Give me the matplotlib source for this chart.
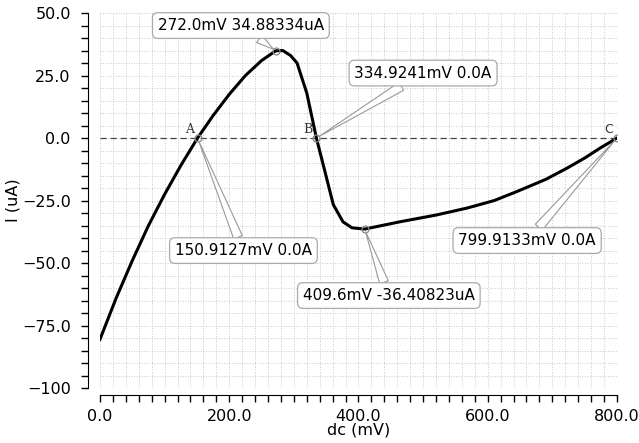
import numpy as np
import matplotlib.pyplot as plt
from matplotlib.ticker import MultipleLocator

# I-V curve, dc sweep
dc_mv = [0, 25, 50, 75, 100, 125, 150.9, 175, 200, 225, 250, 272, 283, 295,
         305, 320, 334.9, 348, 361, 376, 390, 409.6, 464, 520, 568, 610, 645,
         690, 723, 750, 774, 799.9]
i_ua = [-80.5, -64, -49, -35, -22.5, -11, 0, 9, 17.5, 25, 31, 34.9, 35, 33,
        30, 18, 0, -13.3, -26.6, -33.5, -35.9, -36.4, -33.5, -30.8, -28, -25,
        -21.4, -16.5, -12, -8, -4, 0]

# marker readouts and where their boxes sit
mark_x = [272.0, 334.9241, 150.9127, 409.6, 799.9133]
mark_y = [34.88334, 0.0, 0.0, -36.40823, 0.0]
mark_text = ['272.0mV 34.88334uA', '334.9241mV 0.0A', '150.9127mV 0.0A',
             '409.6mV -36.40823uA', '799.9133mV 0.0A']
box_x = [218, 500, 222, 447, 661]
box_y = [45, 26, -45, -63, -41]

pt_names = ['A', 'B', 'C']
pt_x = [150.9127, 334.9241, 799.9133]
pt_color = ['#333333', '#333333', '#1f2f5f']

plt.rcParams['font.family'] = 'DejaVu Sans'
fig = plt.figure(figsize=(6.39, 4.43), dpi=100)
ax = fig.add_axes([0.1565, 0.124, 0.809, 0.8465])

ax.plot(dc_mv, i_ua, color='black', lw=2.2, zorder=3)
ax.axhline(0, color='#444444', lw=0.9, ls=(0, (5, 3)), zorder=2)

for x, y, t, bx, by in zip(mark_x, mark_y, mark_text, box_x, box_y):
    ax.plot(x, y, 'o', ms=5, mfc='none', mec='#888888', mew=0.9, zorder=4)
    ax.annotate(t, xy=(x, y), xytext=(bx, by), ha='center', va='center',
                fontsize=11, color='black',
                bbox=dict(boxstyle='round,pad=0.35', fc='white', ec='#aaaaaa', lw=0.9),
                arrowprops=dict(arrowstyle='wedge,tail_width=0.6', fc='white',
                                ec='#999999', lw=0.8, shrinkA=0, shrinkB=2),
                zorder=5)

for n, x, c in zip(pt_names, pt_x, pt_color):
    fam = 'DejaVu Sans' if n == 'C' else 'DejaVu Serif'
    ax.text(x - 6, 1, n, ha='right', va='bottom', fontsize=9,
            family=fam, color=c, zorder=4)

ax.set_xlim(0, 800)
ax.set_ylim(-100, 50)
ax.xaxis.set_major_locator(MultipleLocator(200))
ax.xaxis.set_minor_locator(MultipleLocator(20))
ax.yaxis.set_major_locator(MultipleLocator(25))
ax.yaxis.set_minor_locator(MultipleLocator(5))
ax.set_xticklabels([f'{v:.1f}' for v in ax.get_xticks()])
ylab = ['−100' if v == -100 else f'{v:.1f}'.replace('-', '−') for v in ax.get_yticks()]
ax.set_yticklabels(ylab)

ax.grid(True, which='both', color='#c8c8c8', ls=':', lw=0.7)
ax.set_axisbelow(True)

for s in ['top', 'right']:
    ax.spines[s].set_visible(False)
ax.spines['left'].set_position(('outward', 9))
ax.spines['bottom'].set_position(('outward', 5))
ax.tick_params(which='both', direction='out', length=5, width=1)
ax.tick_params(labelsize=11.5)
ax.tick_params(axis='x', pad=5)
ax.tick_params(axis='y', pad=7)

ax.set_xlabel('dc (mV)', fontsize=11.5, labelpad=-1)
ax.set_ylabel('I (uA)', fontsize=11.5)
ax.yaxis.set_label_coords(-0.153, 0.5)

fig.savefig('out.png', dpi=100)
